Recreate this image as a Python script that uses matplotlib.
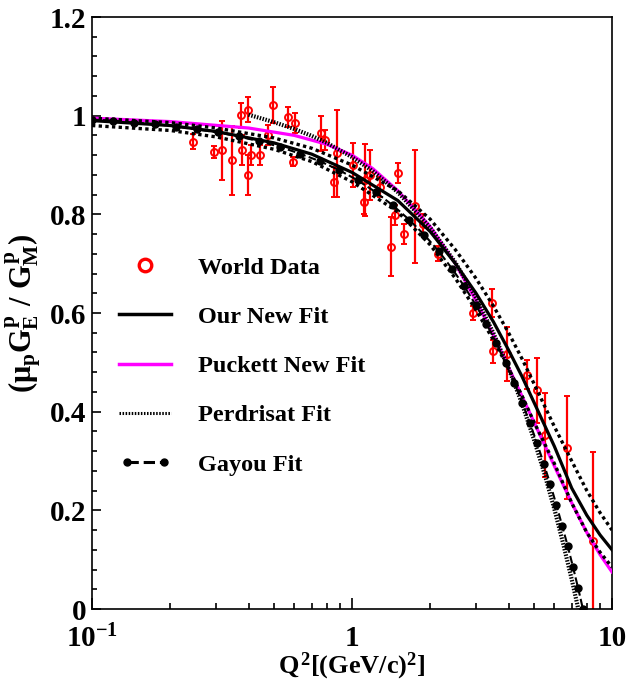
import matplotlib
matplotlib.use("Agg")
import matplotlib.pyplot as plt
from matplotlib.lines import Line2D
from matplotlib.legend_handler import HandlerLine2D
from matplotlib.ticker import FixedLocator, NullFormatter

plt.rcParams['font.family'] = ['Liberation Serif', 'DejaVu Serif']
plt.rcParams['font.weight'] = 'bold'
plt.rcParams['mathtext.fontset'] = 'custom'
plt.rcParams['mathtext.rm'] = 'Liberation Serif:bold'
plt.rcParams['mathtext.it'] = 'Liberation Serif:bold'
plt.rcParams['mathtext.bf'] = 'Liberation Serif:bold'

# World data: Q^2, mu_p GE/GM, error
data_q2 = [0.245, 0.295, 0.317, 0.347, 0.373, 0.377, 0.399, 0.399, 0.41, 0.442,
           0.476, 0.498, 0.569, 0.595, 0.603, 0.758, 0.787, 0.854, 0.874, 1.01,
           1.11, 1.12, 1.17, 1.28, 1.41, 1.46, 1.50, 1.59, 1.75, 1.87,
           2.15, 2.93, 3.47, 3.48, 3.95, 4.70, 5.13, 5.53, 6.69, 8.48]
data_r = [0.947, 0.927, 0.930, 0.910, 1.001, 0.930, 1.012, 0.880, 0.920, 0.920,
          0.961, 1.022, 0.998, 0.907, 0.985, 0.964, 0.951, 0.866, 0.924, 0.900,
          0.826, 0.870, 0.880, 0.856, 0.734, 0.799, 0.884, 0.760, 0.816, 0.780,
          0.720, 0.600, 0.620, 0.522, 0.517, 0.475, 0.443, 0.353, 0.327, 0.138]
data_err = [0.015, 0.012, 0.060, 0.070, 0.025, 0.030, 0.025, 0.040, 0.020, 0.020,
            0.020, 0.037, 0.020, 0.010, 0.020, 0.035, 0.020, 0.030, 0.088, 0.045,
            0.025, 0.073, 0.050, 0.020, 0.060, 0.020, 0.020, 0.020, 0.115, 0.020,
            0.015, 0.015, 0.028, 0.023, 0.055, 0.030, 0.066, 0.085, 0.105, 0.180]

# Our new fit and its error band
fit_q2 = [0.1, 0.2, 0.3, 0.5, 0.7, 1.0, 1.5, 2.0, 2.5, 3.0, 3.5, 4.0, 4.5, 5.0, 6.0, 7.0, 8.0, 9.0, 10.0]
fit_r = [0.990, 0.980, 0.968, 0.945, 0.922, 0.885, 0.828, 0.765, 0.700, 0.640, 0.582,
         0.525, 0.472, 0.420, 0.330, 0.245, 0.190, 0.150, 0.120]
band_hi = [0.995, 0.986, 0.975, 0.955, 0.934, 0.900, 0.848, 0.790, 0.728, 0.670, 0.614,
           0.560, 0.508, 0.458, 0.370, 0.300, 0.240, 0.195, 0.160]
band_lo = [0.980, 0.970, 0.957, 0.932, 0.907, 0.866, 0.805, 0.738, 0.670, 0.606, 0.545,
           0.488, 0.433, 0.380, 0.295, 0.215, 0.155, 0.115, 0.085]

# Puckett new fit
puck_q2 = [0.1, 0.2, 0.4, 0.6, 0.8, 1.0, 1.2, 1.5, 2.0, 2.5, 3.0, 3.5, 4.0, 5.0, 6.0, 7.0, 8.0, 9.0, 10.0]
puck_r = [0.995, 0.988, 0.975, 0.960, 0.942, 0.920, 0.893, 0.848, 0.775, 0.700, 0.625, 0.555,
          0.490, 0.380, 0.290, 0.215, 0.155, 0.110, 0.075]

# Perdrisat fit
perd_q2 = [0.4, 0.5, 0.6, 0.7, 0.8, 1.0, 1.2, 1.5, 2.0, 2.5, 3.0, 3.5, 4.0, 4.5, 5.0, 5.5,
           6.0, 6.5, 7.0, 7.42]
perd_r = [1.002, 0.987, 0.973, 0.959, 0.945, 0.916, 0.888, 0.845, 0.773, 0.702, 0.631, 0.559,
          0.488, 0.417, 0.345, 0.274, 0.203, 0.131, 0.060, 0.000]

# Gayou fit
gay_q2 = [0.100, 0.1205, 0.145, 0.175, 0.211, 0.254, 0.305, 0.366, 0.44, 0.527, 0.63, 0.75,
          0.89, 1.051, 1.233, 1.437, 1.66, 1.90, 2.157, 2.425, 2.704, 2.993, 3.29, 3.59,
          3.90, 4.21, 4.52, 4.83, 5.15, 5.47, 5.79, 6.11, 6.43, 6.76, 7.08, 7.41, 7.73]
gay_r = [0.992, 0.990, 0.986, 0.983, 0.978, 0.972, 0.966, 0.958, 0.948, 0.937, 0.923, 0.908,
         0.890, 0.869, 0.845, 0.818, 0.789, 0.758, 0.725, 0.690, 0.654, 0.616, 0.578, 0.539,
         0.498, 0.458, 0.418, 0.377, 0.336, 0.294, 0.253, 0.211, 0.169, 0.127, 0.085, 0.042, 0.000]

y_ticks = [0, 0.2, 0.4, 0.6, 0.8, 1.0, 1.2]
y_labels = ['0', '0.2', '0.4', '0.6', '0.8', '1', '1.2']
x_ticks = [0.1, 1, 10]
x_labels = [r'$10^{-1}$', '1', '10']

fig = plt.figure(figsize=(6.26, 6.81), dpi=100)
ax = fig.add_axes([92 / 626, 72 / 681, 520 / 626, 592 / 681])

ax.errorbar(data_q2, data_r, yerr=data_err, fmt='o', color='red', mfc='none', mec='red',
            ms=5, mew=1.4, elinewidth=1.6, capsize=2.2, capthick=1.6, zorder=2)

ax.plot(puck_q2, puck_r, color='#ff00ff', lw=2.3, zorder=3)
ax.plot(fit_q2, fit_r, color='black', lw=2.3, zorder=4)
ax.plot(fit_q2, band_hi, color='black', lw=2.4, ls=(0, (1, 1)), zorder=4)
ax.plot(fit_q2, band_lo, color='black', lw=2.4, ls=(0, (1, 1)), zorder=4)
ax.plot(perd_q2, perd_r, color='black', lw=3, ls=(0, (0.35, 0.35)), zorder=4)
ax.plot(gay_q2, gay_r, color='black', lw=1.5, ls='--', marker='o', ms=5, zorder=5)

ax.set_xscale('log')
ax.set_xlim(0.1, 10)
ax.set_ylim(0, 1.2)

ax.set_yticks(y_ticks)
ax.set_yticklabels(y_labels)
ax.yaxis.set_minor_locator(FixedLocator([i * 0.04 for i in range(31)]))
ax.set_xticks(x_ticks)
ax.set_xticklabels(x_labels)
ax.xaxis.set_minor_locator(FixedLocator([0.2, 0.3, 0.4, 0.5, 0.6, 0.7, 0.8, 0.9,
                                         2, 3, 4, 5, 6, 7, 8, 9]))
ax.xaxis.set_minor_formatter(NullFormatter())

ax.tick_params(which='both', direction='in', top=False, right=False, width=1.2)
ax.tick_params(axis='y', which='major', length=6.5, pad=4, labelsize=21)
ax.tick_params(axis='y', which='minor', length=3.5)
ax.tick_params(axis='x', which='major', length=8, pad=11.5, labelsize=21)
ax.tick_params(axis='x', which='minor', length=4.3)
for s in ax.spines.values():
    s.set_linewidth(1.2)

ax.set_xlabel(r'$Q^2[(GeV/c)^2]$', fontsize=19)
ax.xaxis.set_label_coords(0.5, -0.071)
ax.set_ylabel(r'$(\mu_p G^p_E\ /\ G^p_M)$', fontsize=22, labelpad=4)

h_data = Line2D([], [], color='red', ls='none', marker='o', mfc='none', mec='red', ms=9, mew=2.4)
h_fit = Line2D([], [], color='black', lw=2.5)
h_puck = Line2D([], [], color='#ff00ff', lw=2.5)
h_perd = Line2D([], [], color='black', lw=2.2, ls=(0, (0.5, 0.5)))
h_gay = Line2D([], [], color='black', lw=2.2, ls='--', marker='o', ms=5)
ax.legend([h_data, h_fit, h_puck, h_perd, h_gay],
          ['World Data', 'Our New Fit', 'Puckett New Fit', 'Perdrisat Fit', 'Gayou Fit'],
          handler_map={h_gay: HandlerLine2D(numpoints=2)}, numpoints=1,
          frameon=False, fontsize=17.5, handlelength=2.14, handletextpad=1.1,
          labelspacing=1.12, loc='upper left', bbox_to_anchor=(0.0104, 0.632))

fig.savefig('out.png', dpi=100)
